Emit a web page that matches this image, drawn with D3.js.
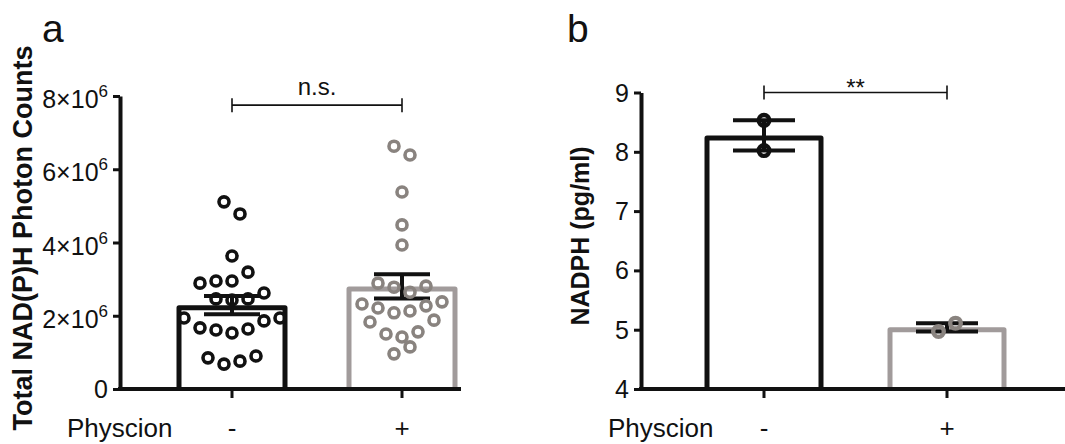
<!DOCTYPE html>
<html>
<head>
<meta charset="utf-8">
<script src="https://cdn.jsdelivr.net/npm/d3@7"></script>
<style>
  body { margin: 0; background: #fff; }
  text { font-family: "Liberation Sans", Arial, sans-serif; fill: #111; }
</style>
</head>
<body>
<svg id="chart" width="1065" height="444"></svg>
<script>
// groups on the x axis
const groups = ["-", "+"];

// panel a: photon counts, one value per cell
const photonMinus = [5.11e6, 4.78e6, 3.63e6, 3.19e6, 2.89e6, 2.95e6, 2.95e6, 2.62e6, 2.46e6, 2.43e6, 2.46e6,
  1.94e6, 1.86e6, 1.94e6, 1.67e6, 1.61e6, 1.53e6, 1.64e6, 0.85e6, 0.68e6, 0.76e6, 0.90e6];
const photonPlus = [6.63e6, 6.39e6, 5.38e6, 4.48e6, 3.93e6, 2.89e6, 2.78e6, 2.64e6, 2.81e6, 2.32e6, 2.21e6,
  2.08e6, 2.13e6, 2.27e6, 2.38e6, 1.83e6, 1.88e6, 1.50e6, 1.42e6, 1.56e6, 0.96e6, 1.15e6];
// scatter column of each point (GraphPad style spread)
const photonMinusCol = [-0.5, 0.5, 0, 1, -2, -1, 0, 2, -1, 0, 1, -3, 2, 3, -2, -1, 0, 1, -1.5, -0.5, 0.5, 1.5];
const photonPlusCol = [-0.5, 0.5, 0, 0, 0, -1.5, -0.5, 0.5, 1.5, -2.5, -1.5, -0.5, 0.5, 1.5, 2.5, -2, 2, -1, 0, 1, -0.5, 0.5];
const photonMean = [2.29e6, 2.80e6];
const photonSem = [0.25e6, 0.33e6];
const photonTicks = [0, 2e6, 4e6, 6e6, 8e6];
const photonSig = { label: "n.s.", value: 7.75e6 };

// panel b: NADPH
const nadphMinus = [8.53, 8.02];
const nadphPlus = [4.97, 5.11];
const nadphMinusCol = [0, 0];
const nadphPlusCol = [-0.5, 0.5];
const nadphMean = [8.275, 5.04];
const nadphErr = [0.255, 0.07];
const nadphTicks = [4, 5, 6, 7, 8, 9];
const nadphSig = { label: "**", value: 9 };

const svg = d3.select("#chart");
const baseY = 389;
const dark = "#111";
const grayBar = "#a19b9b";
const grayDot = "#89837f";

const yA = d3.scaleLinear().domain([0, 8e6]).range([baseY, 96]);
const xA = d3.scalePoint().domain(groups).range([232, 402]);
const yB = d3.scaleLinear().domain([4, 9]).range([baseY, 92.5]);
const xB = d3.scalePoint().domain(groups).range([764, 947]);

function panel(cfg) {
  const g = svg.append("g");
  const { x, y, x0, x1, barW, capW, r, sw, step } = cfg;
  const bw = 5;

  // bars (stroke drawn inside the bar outline, open at the bottom)
  groups.forEach((k, i) => {
    const cx = x(k);
    const l = cx - barW / 2 + bw / 2, rr = cx + barW / 2 - bw / 2;
    const t = y(cfg.mean[i]) + bw / 2;
    g.append("path")
      .attr("d", `M${l},${baseY}V${t}H${rr}V${baseY}`)
      .attr("fill", "#fff")
      .attr("stroke", i === 0 ? dark : grayBar)
      .attr("stroke-width", bw)
      .attr("stroke-linejoin", "round");
  });

  // error bars
  groups.forEach((k, i) => {
    const cx = x(k), hi = y(cfg.mean[i] + cfg.err[i]), lo = y(cfg.mean[i] - cfg.err[i]);
    const eb = g.append("g").attr("stroke", dark).attr("stroke-width", 4);
    eb.append("line").attr("x1", cx).attr("x2", cx).attr("y1", hi).attr("y2", lo);
    [hi, lo].forEach(v => {
      eb.append("line").attr("x1", cx - capW).attr("x2", cx + capW).attr("y1", v).attr("y2", v);
    });
  });

  // points
  groups.forEach((k, i) => {
    const vals = cfg.points[i], cols = cfg.cols[i];
    g.append("g").selectAll("circle")
      .data(vals)
      .join("circle")
      .attr("cx", (d, j) => x(k) + cols[j] * step)
      .attr("cy", d => y(d))
      .attr("r", r)
      .attr("fill", "none")
      .attr("stroke", i === 0 ? dark : grayDot)
      .attr("stroke-width", sw);
  });

  // y axis
  const ax = g.append("g").attr("transform", `translate(${x0},0)`)
    .call(d3.axisLeft(y).tickValues(cfg.ticks).tickSize(7).tickSizeOuter(0).tickFormat(""));
  ax.select(".domain").attr("stroke", dark).attr("stroke-width", 4);
  ax.selectAll(".tick line").attr("stroke", dark).attr("stroke-width", 3);

  cfg.ticks.forEach(t => {
    const txt = g.append("text")
      .attr("x", x0 - 12)
      .attr("y", y(t) + cfg.labelDy(t))
      .attr("text-anchor", "end")
      .style("font-size", "25px");
    cfg.fmt(txt, t);
  });

  // x axis
  g.append("line").attr("x1", x0 - 2).attr("x2", x1).attr("y1", baseY).attr("y2", baseY)
    .attr("stroke", dark).attr("stroke-width", 4);
  groups.forEach(k => {
    g.append("line").attr("x1", x(k)).attr("x2", x(k)).attr("y1", baseY).attr("y2", baseY + 9)
      .attr("stroke", dark).attr("stroke-width", 3);
    g.append("text").attr("x", x(k)).attr("y", 437).attr("text-anchor", "middle")
      .style("font-size", "26px").text(k);
  });
  g.append("text").attr("x", cfg.physX).attr("y", 437).style("font-size", "26px").text("Physcion");

  // significance bracket
  const sy = y(cfg.sig.value), sx0 = x(groups[0]), sx1 = x(groups[1]);
  const sg = g.append("g").attr("stroke", dark).attr("stroke-width", 1.6);
  sg.append("line").attr("x1", sx0).attr("x2", sx1).attr("y1", sy).attr("y2", sy);
  [sx0, sx1].forEach(v => sg.append("line").attr("x1", v).attr("x2", v).attr("y1", sy - 7).attr("y2", sy + 7));
  g.append("text").attr("x", (sx0 + sx1) / 2).attr("y", sy + cfg.sigDy)
    .attr("text-anchor", "middle").style("font-size", "24px").text(cfg.sig.label);

  // titles
  g.append("text")
    .attr("transform", `translate(${cfg.titleX},${cfg.titleY}) rotate(-90)`)
    .attr("text-anchor", "middle")
    .style("font-size", cfg.titleSize).style("font-weight", "bold")
    .text(cfg.title);
  g.append("text").attr("x", cfg.letterX).attr("y", 42).style("font-size", "39px").text(cfg.letter);
}

panel({
  x: xA, y: yA, x0: 120, x1: 461, barW: 111, capW: 28, r: 5, sw: 3.6, step: 16,
  mean: photonMean, err: photonSem,
  points: [photonMinus, photonPlus], cols: [photonMinusCol, photonPlusCol],
  ticks: photonTicks,
  labelDy: t => t === 0 ? 9 : 12,
  fmt: (txt, t) => {
    if (t === 0) { txt.text("0"); return; }
    txt.append("tspan").text(`${t / 1e6}×10`);
    txt.append("tspan").attr("dy", -11).style("font-size", "17px").text("6");
  },
  sig: photonSig, sigDy: -10,
  physX: 67,
  title: "Total NAD(P)H Photon Counts", titleX: 32, titleY: 238, titleSize: "27px",
  letter: "a", letterX: 42
});

panel({
  x: xB, y: yB, x0: 641, x1: 1065, barW: 119, capW: 31, r: 5.3, sw: 4.4, step: 17,
  mean: nadphMean, err: nadphErr,
  points: [nadphMinus, nadphPlus], cols: [nadphMinusCol, nadphPlusCol],
  ticks: nadphTicks,
  labelDy: () => 9,
  fmt: (txt, t) => txt.text(t),
  sig: nadphSig, sigDy: 3,
  physX: 608,
  title: "NADPH (pg/ml)", titleX: 589, titleY: 236, titleSize: "25px",
  letter: "b", letterX: 567
});
</script>
</body>
</html>
